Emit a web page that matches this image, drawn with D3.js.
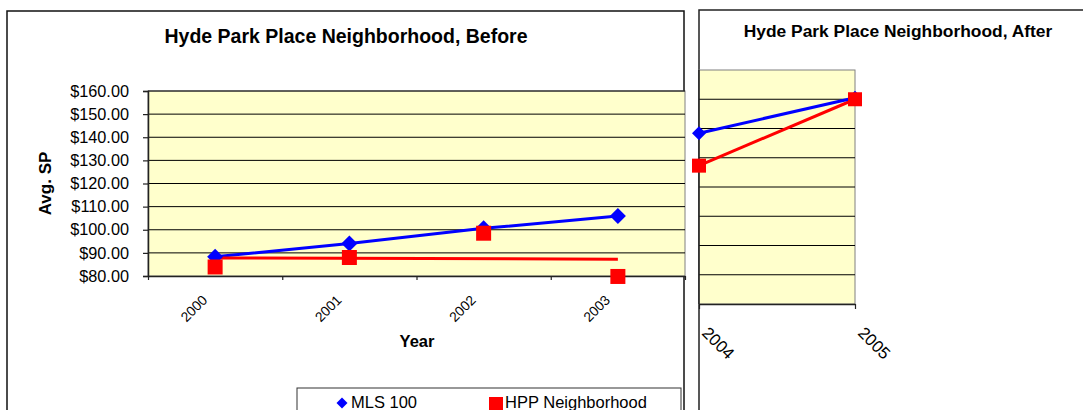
<!DOCTYPE html>
<html>
<head>
<meta charset="utf-8">
<script src="https://cdn.jsdelivr.net/npm/d3@7"></script>
<style>
  html, body { margin: 0; padding: 0; background: #fff; }
  svg { display: block; font-family: "Liberation Sans", Arial, sans-serif; }
</style>
</head>
<body>
<svg id="chart" width="1083" height="410"></svg>
<script>
// Average sale price per year, before and after
const yearsBefore = ["2000", "2001", "2002", "2003"];
const mlsBefore = [88.3, 94.1, 100.6, 105.9];
const hppBefore = [83.9, 88.0, 98.5, 79.8];

const yearsAfter = ["2004", "2005"];
const mlsAfter = [138.4, 150.5];
const hppAfter = [127.3, 150.0];

const priceTicks = [80, 90, 100, 110, 120, 130, 140, 150, 160];

const seriesNames = ["MLS 100", "HPP Neighborhood"];
const titles = ["Hyde Park Place Neighborhood, Before", "Hyde Park Place Neighborhood, After"];

const BLUE = "#0000ff", RED = "#ff0000", PLOT_BG = "#ffffcc";
const svg = d3.select("#chart");
const money = d3.format("$,.2f");

const diamond = s => d3.symbol().type(d3.symbolSquare).size(s * s / 2)();

// ---------- "Before" chart ----------
const L = { left: 148, right: 685, top: 91, bottom: 276 };
const xB = d3.scaleBand().domain(yearsBefore).range([L.left, L.right]);
const xBIdx = d3.scaleLinear().domain([0, yearsBefore.length]).range([L.left, L.right]);
const yB = d3.scaleLinear().domain([80, 160]).range([L.bottom, L.top]);
const cx = d => xB(d) + xB.bandwidth() / 2;

// outer frame
svg.append("rect").attr("x", 7).attr("y", 11).attr("width", 677).attr("height", 420)
  .attr("fill", "#fff").attr("stroke", "#111").attr("stroke-width", 1.5);

svg.append("text").attr("x", 346).attr("y", 43).attr("text-anchor", "middle")
  .attr("font-weight", "bold").attr("font-size", 19.5).text(titles[0]);

const gB = svg.append("g");
gB.append("rect").attr("x", L.left).attr("y", L.top)
  .attr("width", L.right - L.left).attr("height", L.bottom - L.top)
  .attr("fill", PLOT_BG).attr("stroke", "#808080").attr("stroke-width", 1);

gB.selectAll("line.grid").data(priceTicks.slice(1)).join("line")
  .attr("class", "grid")
  .attr("x1", L.left).attr("x2", L.right)
  .attr("y1", d => yB(d)).attr("y2", d => yB(d))
  .attr("stroke", "#000").attr("stroke-width", 1);

// y axis
const yAxB = gB.append("g").attr("transform", `translate(${L.left},0)`)
  .call(d3.axisLeft(yB).tickValues(priceTicks).tickFormat(money).tickSize(5).tickPadding(14));
yAxB.select(".domain").attr("stroke", "#222").attr("stroke-width", 1.5);
yAxB.selectAll(".tick line").attr("stroke", "#222").attr("stroke-width", 1.2);
yAxB.selectAll(".tick text").attr("font-size", 16.3).attr("fill", "#000")
  .attr("font-family", "Liberation Sans, Arial, sans-serif");

// x axis: ticks on category boundaries
const xAxB = gB.append("g").attr("transform", `translate(0,${L.bottom})`)
  .call(d3.axisBottom(xBIdx).tickValues(d3.range(yearsBefore.length + 1)).tickFormat("").tickSize(4).tickSizeOuter(0));
xAxB.select(".domain").attr("stroke", "#222").attr("stroke-width", 1.5);
xAxB.selectAll(".tick line").attr("stroke", "#222").attr("stroke-width", 1.2);

gB.selectAll("text.xlab").data(yearsBefore).join("text")
  .attr("class", "xlab")
  .attr("text-anchor", "end").attr("font-size", 13.8)
  .attr("transform", d => `translate(${cx(d) - 7},301) rotate(-45)`)
  .text(d => d);

svg.append("text").attr("x", 417).attr("y", 347).attr("text-anchor", "middle")
  .attr("font-weight", "bold").attr("font-size", 16.5).text("Year");

svg.append("text").attr("text-anchor", "middle").attr("font-weight", "bold")
  .attr("font-size", 17)
  .attr("transform", `translate(51,${(L.top + L.bottom) / 2}) rotate(-90)`)
  .text("Avg. SP");

// MLS line
gB.append("path").datum(mlsBefore)
  .attr("fill", "none").attr("stroke", BLUE).attr("stroke-width", 3)
  .attr("d", d3.line().x((d, i) => cx(yearsBefore[i])).y(d => yB(d)));

// HPP linear trend
const n = hppBefore.length;
const mx = d3.mean(d3.range(n)), my = d3.mean(hppBefore);
const slope = d3.sum(hppBefore, (v, i) => (i - mx) * (v - my)) / d3.sum(d3.range(n), i => (i - mx) ** 2);
const trend = i => my + slope * (i - mx);
gB.append("line")
  .attr("x1", cx(yearsBefore[0])).attr("x2", cx(yearsBefore[n - 1]))
  .attr("y1", yB(trend(0))).attr("y2", yB(trend(n - 1)))
  .attr("stroke", RED).attr("stroke-width", 3);

gB.selectAll("path.mls").data(mlsBefore).join("path")
  .attr("class", "mls")
  .attr("transform", (d, i) => `translate(${cx(yearsBefore[i])},${yB(d)}) rotate(45)`)
  .attr("d", diamond(16)).attr("fill", BLUE);

gB.selectAll("rect.hpp").data(hppBefore).join("rect")
  .attr("class", "hpp")
  .attr("x", (d, i) => cx(yearsBefore[i]) - 7.5).attr("y", d => yB(d) - 7.5)
  .attr("width", 15).attr("height", 15).attr("fill", RED);

// legend
const lg = svg.append("g");
lg.append("rect").attr("x", 297).attr("y", 388).attr("width", 384).attr("height", 40)
  .attr("fill", "#fff").attr("stroke", "#333").attr("stroke-width", 1);
lg.append("path").attr("transform", "translate(342,403) rotate(45)")
  .attr("d", diamond(11)).attr("fill", BLUE);
lg.append("text").attr("x", 351).attr("y", 408).attr("font-size", 16.5).text(seriesNames[0]);
lg.append("rect").attr("x", 489).attr("y", 397).attr("width", 14).attr("height", 14).attr("fill", RED);
lg.append("text").attr("x", 505).attr("y", 408).attr("font-size", 16.5).text(seriesNames[1]);

// ---------- "After" chart ----------
const R = { left: 699, right: 855, top: 70, bottom: 304 };
const xA = d3.scalePoint().domain(yearsAfter).range([R.left, R.right]);
const yA = d3.scaleLinear().domain([80, 160]).range([R.bottom, R.top]);

svg.append("rect").attr("x", 699).attr("y", 10).attr("width", 420).attr("height", 420)
  .attr("fill", "#fff").attr("stroke", "#222").attr("stroke-width", 1.5);

svg.append("text").attr("x", 898).attr("y", 37).attr("text-anchor", "middle")
  .attr("font-weight", "bold").attr("font-size", 17.4).text(titles[1]);

const gA = svg.append("g");
gA.append("rect").attr("x", R.left).attr("y", R.top)
  .attr("width", R.right - R.left).attr("height", R.bottom - R.top)
  .attr("fill", PLOT_BG).attr("stroke", "#808080").attr("stroke-width", 1);

gA.selectAll("line.grid").data(priceTicks.slice(1, -1)).join("line")
  .attr("class", "grid")
  .attr("x1", R.left).attr("x2", R.right)
  .attr("y1", d => yA(d)).attr("y2", d => yA(d))
  .attr("stroke", "#000").attr("stroke-width", 1);

const xAxA = gA.append("g").attr("transform", `translate(0,${R.bottom})`)
  .call(d3.axisBottom(xA).tickFormat("").tickSize(5).tickSizeOuter(0));
xAxA.select(".domain").attr("stroke", "#222").attr("stroke-width", 1.5);
xAxA.selectAll(".tick line").attr("stroke", "#222").attr("stroke-width", 1.2);
gA.append("line").attr("x1", R.left).attr("x2", R.left).attr("y1", R.top).attr("y2", R.bottom)
  .attr("stroke", "#222").attr("stroke-width", 1.5);

gA.selectAll("text.xlab").data(yearsAfter).join("text")
  .attr("class", "xlab")
  .attr("text-anchor", "start").attr("font-size", 16.8)
  .attr("transform", d => `translate(${xA(d) + 2},334) rotate(45)`)
  .text(d => d);

const lineA = d3.line().x((d, i) => xA(yearsAfter[i])).y(d => yA(d));
gA.append("path").datum(hppAfter).attr("fill", "none").attr("stroke", RED)
  .attr("stroke-width", 3).attr("d", lineA);
gA.append("path").datum(mlsAfter).attr("fill", "none").attr("stroke", BLUE)
  .attr("stroke-width", 3).attr("d", lineA);

gA.selectAll("path.mls").data(mlsAfter).join("path")
  .attr("class", "mls")
  .attr("transform", (d, i) => `translate(${xA(yearsAfter[i])},${yA(d)}) rotate(45)`)
  .attr("d", diamond(14)).attr("fill", BLUE);

gA.selectAll("rect.hpp").data(hppAfter).join("rect")
  .attr("class", "hpp")
  .attr("x", (d, i) => xA(yearsAfter[i]) - 7).attr("y", d => yA(d) - 7)
  .attr("width", 14).attr("height", 14).attr("fill", RED);
</script>
</body>
</html>
